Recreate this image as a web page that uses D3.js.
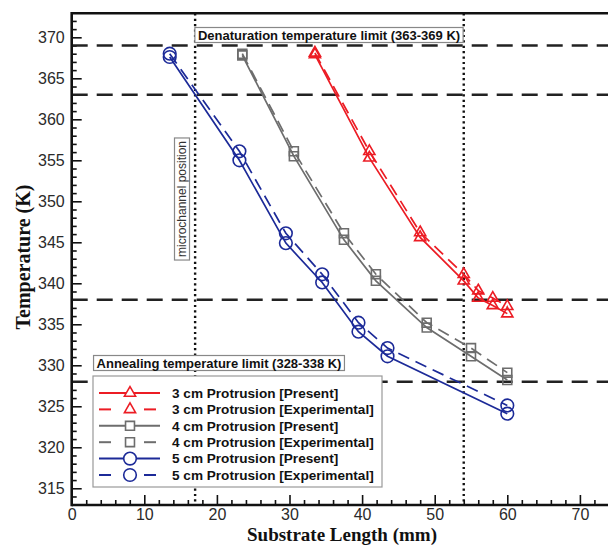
<!DOCTYPE html>
<html>
<head>
<meta charset="utf-8">
<script src="https://cdn.jsdelivr.net/npm/d3@7"></script>
<style>
  html, body { margin: 0; padding: 0; background: #fff; }
  svg { display: block; }
</style>
</head>
<body>
<svg id="chart" width="608" height="545"></svg>
<script>
// Substrate length (mm) of each probe position, per protrusion
const length3cm = [33.5, 41.0, 48.0, 54.0, 56.0, 58.0, 60.0];
const length4cm = [23.5, 30.6, 37.5, 41.9, 48.9, 55.0, 60.0];
const length5cm = [13.5, 23.1, 29.5, 34.5, 39.5, 43.5, 60.0];

// Temperature (K): simulation ("Present") and measured ("Experimental")
const temp3cmPresent = [367.9, 355.3, 345.6, 340.3, 338.2, 337.3, 336.3];
const temp3cmExp     = [368.1, 356.1, 346.2, 341.1, 339.1, 338.2, 337.2];
const temp4cmPresent = [367.8, 355.5, 345.3, 340.3, 334.6, 331.1, 328.2];
const temp4cmExp     = [368.0, 356.1, 346.1, 341.1, 335.2, 332.1, 329.1];
const temp5cmPresent = [367.6, 355.0, 344.9, 340.1, 334.1, 331.1, 324.1];
const temp5cmExp     = [368.0, 356.1, 346.1, 341.1, 335.2, 332.1, 325.1];

// Reference limits
const limitTemps = [369, 363, 338, 328];          // K, dashed horizontals
const positionMarks = [17, 54];                    // mm, dotted verticals

// Axis ticks
const xTicks = [0, 10, 20, 30, 40, 50, 60, 70];
const yTicks = [315, 320, 325, 330, 335, 340, 345, 350, 355, 360, 365, 370];

const legendLabels = [
  "3 cm Protrusion [Present]",
  "3 cm Protrusion [Experimental]",
  "4 cm Protrusion [Present]",
  "4 cm Protrusion [Experimental]",
  "5 cm Protrusion [Present]",
  "5 cm Protrusion [Experimental]"
];

const RED = "#ec1c24", GRAY = "#6d6d6d", BLUE = "#1c2a98";

const series = [
  { x: length3cm, y: temp3cmPresent, color: RED,  shape: "triangle", dashed: false },
  { x: length3cm, y: temp3cmExp,     color: RED,  shape: "triangle", dashed: true },
  { x: length4cm, y: temp4cmPresent, color: GRAY, shape: "square",   dashed: false },
  { x: length4cm, y: temp4cmExp,     color: GRAY, shape: "square",   dashed: true },
  { x: length5cm, y: temp5cmPresent, color: BLUE, shape: "circle",   dashed: false },
  { x: length5cm, y: temp5cmExp,     color: BLUE, shape: "circle",   dashed: true }
];
series.forEach((s, i) => s.label = legendLabels[i]);

const svg = d3.select("#chart");
const plotLeft = 71.7, plotTop = 13.3, plotBottom = 505;

const x = d3.scaleLinear().domain([0, 76]).range([plotLeft, plotLeft + 76 * 7.26]);
const y = d3.scaleLinear().domain([312.96, 372.93]).range([plotBottom, plotTop]);

const symbolFor = {
  triangle: d3.symbol().type(d3.symbolTriangle).size(54),
  square:   d3.symbol().type(d3.symbolSquare).size(80),
  circle:   d3.symbol().type(d3.symbolCircle).size(125)
};

// ---- minor and major ticks (pointing inward) ----
const xMinor = d3.range(0, 77, 2).filter(v => v % 10 !== 0);
const yMinor = d3.range(314, 373, 1).filter(v => v % 5 !== 0);

const gx = svg.append("g").attr("transform", `translate(0,${plotBottom})`);
gx.append("g").call(d3.axisBottom(x).tickValues(xMinor).tickSize(-5).tickSizeOuter(0).tickFormat(""))
  .call(g => g.select(".domain").remove());
gx.append("g").call(d3.axisBottom(x).tickValues(xTicks).tickSize(-10).tickSizeOuter(0).tickPadding(4))
  .call(g => g.select(".domain").remove());

const gy = svg.append("g").attr("transform", `translate(${plotLeft},0)`);
gy.append("g").call(d3.axisLeft(y).tickValues(yMinor).tickSize(-5).tickSizeOuter(0).tickFormat(""))
  .call(g => g.select(".domain").remove());
gy.append("g").call(d3.axisLeft(y).tickValues(yTicks).tickSize(-10).tickSizeOuter(0).tickPadding(7))
  .call(g => g.select(".domain").remove());

svg.selectAll(".tick line").attr("stroke", "#111").attr("stroke-width", 1.6);
svg.selectAll(".tick text")
  .attr("font-family", "Arial, 'Liberation Sans', sans-serif")
  .attr("font-size", 16).attr("fill", "#2a2a2a");

// ---- reference lines ----
svg.append("g").selectAll("line").data(limitTemps).join("line")
  .attr("x1", plotLeft).attr("x2", 608)
  .attr("y1", d => y(d)).attr("y2", d => y(d))
  .attr("stroke", "#222").attr("stroke-width", 2.6)
  .attr("stroke-dasharray", "16,9");

svg.append("g").selectAll("line").data(positionMarks).join("line")
  .attr("x1", d => x(d)).attr("x2", d => x(d))
  .attr("y1", plotTop).attr("y2", plotBottom)
  .attr("stroke", "#111").attr("stroke-width", 2.4)
  .attr("stroke-dasharray", "2.2,3.2");

// ---- boxed annotations ----
function boxedText(cx, cy, text, opts) {
  const g = svg.append("g").attr("transform", `translate(${cx},${cy}) rotate(${opts.rotate || 0})`);
  const rect = g.append("rect");
  const t = g.append("text")
    .attr("text-anchor", "middle").attr("dy", "0.35em")
    .attr("font-family", "Arial, 'Liberation Sans', sans-serif")
    .attr("font-size", opts.size).attr("font-weight", opts.weight)
    .attr("fill", opts.fill || "#111")
    .text(text);
  const w = t.node().getComputedTextLength();
  rect.attr("x", -w / 2 - 3).attr("y", -7.5).attr("width", w + 6).attr("height", 15)
    .attr("fill", "#fff").attr("stroke", "#888").attr("stroke-width", 1.2);
}

boxedText(329, 35, "Denaturation temperature limit (363-369 K)", { size: 13, weight: "bold" });
boxedText(219, 363, "Annealing temperature limit (328-338 K)", { size: 13, weight: "bold" });
boxedText(182, 199, "microchannel position", { size: 12, weight: "normal", rotate: -90, fill: "#333" });

// ---- data series ----
const line = d3.line().x(d => x(d[0])).y(d => y(d[1]));

series.forEach(s => {
  const pts = s.x.map((v, i) => [v, s.y[i]]);
  svg.append("path").datum(pts)
    .attr("d", line).attr("fill", "none")
    .attr("stroke", s.color).attr("stroke-width", 1.7)
    .attr("stroke-dasharray", s.dashed ? "12,7" : null);
});
series.forEach(s => {
  const pts = s.x.map((v, i) => [v, s.y[i]]);
  svg.append("g").selectAll("path").data(pts).join("path")
    .attr("transform", d => `translate(${x(d[0])},${y(d[1])})`)
    .attr("d", symbolFor[s.shape]())
    .attr("fill", "none").attr("stroke", s.color).attr("stroke-width", 1.6);
});

// ---- spines ----
svg.append("line").attr("x1", plotLeft).attr("x2", 608).attr("y1", plotBottom).attr("y2", plotBottom)
  .attr("stroke", "#111").attr("stroke-width", 2.6);
svg.append("line").attr("x1", plotLeft).attr("x2", 608).attr("y1", plotTop).attr("y2", plotTop)
  .attr("stroke", "#111").attr("stroke-width", 2.6);
svg.append("line").attr("x1", plotLeft).attr("x2", plotLeft).attr("y1", plotTop - 1.3).attr("y2", plotBottom + 1.3)
  .attr("stroke", "#111").attr("stroke-width", 2.6);

// ---- legend ----
const leg = svg.append("g");
leg.append("rect").attr("x", 93).attr("y", 376).attr("width", 289).attr("height", 111)
  .attr("fill", "#fff").attr("stroke", "#999").attr("stroke-width", 1.2);
series.forEach((s, i) => {
  const ry = 393 + i * 16.4;
  const g = leg.append("g");
  if (s.dashed) {
    g.append("line").attr("x1", 99).attr("x2", 111).attr("y1", ry).attr("y2", ry)
      .attr("stroke", s.color).attr("stroke-width", 2);
    g.append("line").attr("x1", 144).attr("x2", 156).attr("y1", ry).attr("y2", ry)
      .attr("stroke", s.color).attr("stroke-width", 2);
  } else {
    g.append("line").attr("x1", 99).attr("x2", 160).attr("y1", ry).attr("y2", ry)
      .attr("stroke", s.color).attr("stroke-width", 2);
  }
  g.append("path").attr("transform", `translate(130,${ry})`)
    .attr("d", symbolFor[s.shape]())
    .attr("fill", "#fff").attr("stroke", s.color).attr("stroke-width", 1.6);
  g.append("text").attr("x", 172).attr("y", ry).attr("dy", "0.35em")
    .attr("font-family", "Arial, 'Liberation Sans', sans-serif")
    .attr("font-size", 13.6).attr("font-weight", "bold").attr("fill", "#111")
    .text(s.label);
});

// ---- axis titles ----
svg.append("text").attr("x", 342).attr("y", 540.5).attr("text-anchor", "middle")
  .attr("font-family", "'Times New Roman', 'Liberation Serif', serif")
  .attr("font-size", 19).attr("font-weight", "bold").attr("fill", "#111")
  .text("Substrate Length (mm)");
svg.append("text").attr("transform", "translate(30,257) rotate(-90)").attr("text-anchor", "middle")
  .attr("font-family", "'Times New Roman', 'Liberation Serif', serif")
  .attr("font-size", 20).attr("font-weight", "bold").attr("fill", "#111")
  .text("Temperature (K)");
</script>
</body>
</html>
